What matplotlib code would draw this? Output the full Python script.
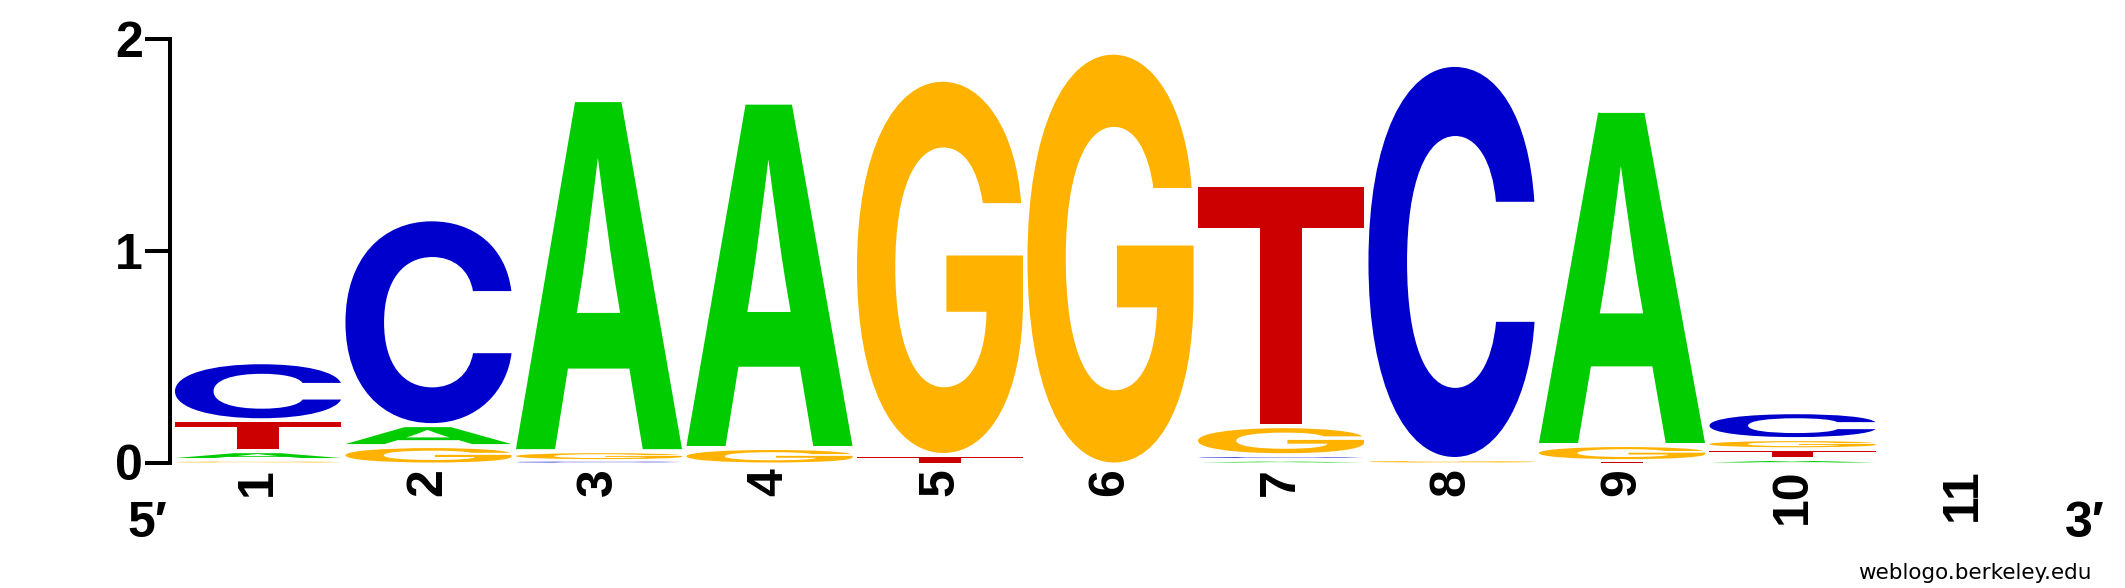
import matplotlib
matplotlib.use("Agg")
import matplotlib.pyplot as plt
from matplotlib.textpath import TextPath
from matplotlib.patches import PathPatch
from matplotlib.transforms import Affine2D
from matplotlib.font_manager import FontProperties

# information (bits) per letter, positions 1..11
positions = list(range(1, 12))
A = [0.042, 0.099, 1.658, 1.631, 0, 0, 0.022, 0, 1.578, 0.026, 0]
C = [0.274, 0.972, 0.016, 0, 0, 0, 0.022, 1.861, 0, 0.127, 0]
G = [0.021, 0.087, 0.047, 0.078, 1.772, 1.945, 0.137, 0.026, 0.076, 0.048, 0]
T = [0.146, 0, 0, 0, 0.045, 0, 1.137, 0, 0.016, 0.046, 0]
yticks = [0, 1, 2]

colors = {'A': '#00cc00', 'C': '#0000cc', 'G': '#ffb300', 'T': '#cc0000'}
heights = {'A': A, 'C': C, 'G': G, 'T': T}

GAP = 0.019      # white space between stacked letters
WIDTH = 0.974    # letter width in position units

fp = FontProperties(family='Inter', weight='bold')
bold = ['Liberation Sans', 'DejaVu Sans']


def draw_letter(ax, ch, x, y, w, h, color):
    tp = TextPath((0, 0), ch, size=1, prop=fp)
    bb = tp.get_extents()
    tr = Affine2D().translate(-bb.x0, -bb.y0).scale(w / bb.width, h / bb.height).translate(x - w / 2, y)
    ax.add_patch(PathPatch(tr.transform_path(tp), facecolor=color, edgecolor='none', lw=0, clip_on=False))


fig = plt.figure(figsize=(21.25, 5.88), dpi=100)
W, H = 2125, 588
ax = fig.add_axes([170 / W, (H - 462.5) / H, 1840 / W, 423.5 / H])

for i, p in enumerate(positions):
    col = [(heights[b][i], b) for b in 'ACGT' if heights[b][i] > 0]
    col.sort(key=lambda t: t[0])
    y = 0
    for h, b in col:
        gh = max(h - GAP, 0.004)
        draw_letter(ax, b, p, y, WIDTH, gh, colors[b])
        y += h

x0 = 1 - 88 / 170.5
ax.set_xlim(x0, x0 + 1840 / 170.5)
ax.set_ylim(0, 2)
for s in ['top', 'right', 'bottom']:
    ax.spines[s].set_visible(False)
ax.spines['left'].set_linewidth(2.9)
ax.spines['left'].set_bounds(0, 2)

ax.set_yticks(yticks)
ax.set_yticklabels([str(v) for v in yticks], fontsize=36, fontweight='bold', family=bold)
ax.tick_params(axis='y', length=18, width=2.9, pad=1.5, direction='out')

ax.set_xticks(positions)
ax.set_xticklabels([str(p) for p in positions], rotation=90, fontsize=36,
                   fontweight='bold', family=bold)
ax.tick_params(axis='x', length=0, pad=4)

fig.text(127 / W, (H - 537) / H, '5\u2032', fontsize=36, fontweight='bold', family=bold,
         ha='left', va='baseline')
fig.text(2065 / W, (H - 537) / H, '3\u2032', fontsize=36, fontweight='bold', family=bold,
         ha='left', va='baseline')
fig.text(1858 / W, (H - 579) / H, 'weblogo.berkeley.edu', fontsize=15.5, family='DejaVu Sans',
         ha='left', va='baseline')

fig.savefig('out.png', dpi=100, facecolor='white')
